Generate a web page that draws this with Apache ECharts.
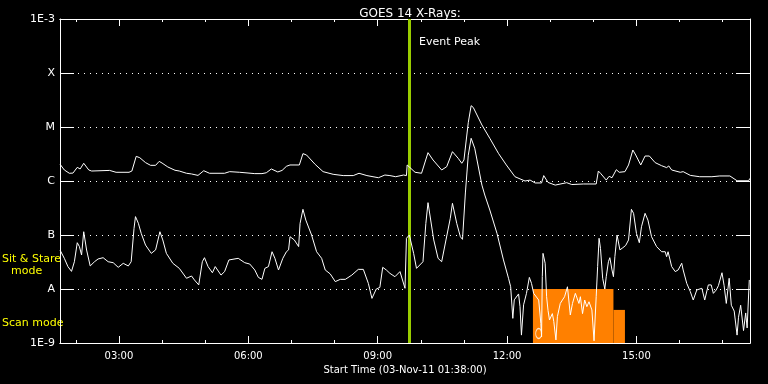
<!DOCTYPE html>
<html><head><meta charset="utf-8">
<script src="https://cdn.jsdelivr.net/npm/echarts@6/dist/echarts.min.js"></script>
<style>html,body{margin:0;padding:0;background:#000}#c{width:768px;height:384px}</style>
</head><body><div id="c"></div>
<script>
const chartTitle = 'GOES 14 X-Rays:';
const xAxisName = 'Start Time (03-Nov-11 01:38:00)';
const xStart = '01:38', xEnd = '17:38';
const xLabelTimes = ['03:00','06:00','09:00','12:00','15:00'];
const xMinorTimes = ['02:00','03:00','04:00','05:00','06:00','07:00','08:00','09:00','10:00','11:00','12:00','13:00','14:00','15:00','16:00','17:00'];
const yLevelLabels = ['1E-9','A','B','C','M','X','1E-3'];

const longTimes = ['01:38','01:44','01:51','01:56','02:02','02:06','02:11','02:18','02:22','02:47','02:56','03:14','03:18','03:24','03:29','03:37','03:44','03:51','03:56','04:00','04:08','04:18','04:24','04:34','04:41','04:50','04:58','05:06','05:27','05:34','05:48','06:09','06:19','06:25','06:32','06:41','06:47','06:53','06:58','07:11','07:16','07:21','07:33','07:44','07:58','08:12','08:26','08:34','08:45','09:01','09:10','09:17','09:25','09:36','09:40','09:41','09:52','10:01','10:10','10:17','10:29','10:36','10:44','10:52','10:57','11:00','11:02','11:06','11:10','11:13','11:25','11:36','11:48','11:59','12:11','12:25','12:32','12:39','12:48','12:51','12:57','13:07','13:23','13:30','13:46','14:04','14:07','14:10','14:18','14:22','14:26','14:32','14:36','14:44','14:49','14:55','14:59','15:06','15:12','15:18','15:26','15:35','15:42','15:45','15:49','16:01','16:05','16:15','16:28','16:45','16:56','17:10','17:20','17:36','17:38'];
const longFlux = [2.05e-6,1.6e-6,1.39e-6,1.4e-6,1.79e-6,1.67e-6,2.13e-6,1.6e-6,1.53e-6,1.57e-6,1.45e-6,1.45e-6,1.53e-6,2.86e-6,2.7e-6,2.19e-6,1.95e-6,1.95e-6,2.31e-6,2.15e-6,1.82e-6,1.58e-6,1.53e-6,1.39e-6,1.35e-6,1.27e-6,1.55e-6,1.39e-6,1.39e-6,1.49e-6,1.45e-6,1.37e-6,1.37e-6,1.42e-6,1.67e-6,1.47e-6,1.57e-6,1.87e-6,1.98e-6,1.98e-6,3.21e-6,3.03e-6,2.03e-6,1.49e-6,1.33e-6,1.26e-6,1.26e-6,1.39e-6,1.26e-6,1.15e-6,1.29e-6,1.26e-6,1.2e-6,1.29e-6,1.26e-6,1.98e-6,1.45e-6,1.39e-6,3.35e-6,2.45e-6,1.6e-6,1.84e-6,3.49e-6,2.63e-6,2.13e-6,2.45e-6,2.3e-6,1.2e-5,2.48e-5,2.3e-5,1.09e-5,6.17e-6,3.25e-6,1.98e-6,1.2e-6,1.0e-6,1.04e-6,9.2e-7,9.2e-7,1.26e-6,9.4e-7,8.4e-7,9.3e-7,8.6e-7,8.8e-7,8.8e-7,1.53e-6,1.39e-6,1.04e-6,1.22e-6,1.15e-6,1.62e-6,1.45e-6,1.49e-6,1.98e-6,3.75e-6,3.03e-6,1.98e-6,2.9e-6,2.9e-6,2.19e-6,1.92e-6,1.77e-6,1.9e-6,1.6e-6,1.45e-6,1.49e-6,1.27e-6,1.2e-6,1.2e-6,1.24e-6,1.24e-6,1.01e-6,1.01e-6,1.12e-6];

const shortTimes = ['01:38','01:44','01:49','01:54','01:58','02:02','02:05','02:08','02:11','02:15','02:20','02:26','02:31','02:38','02:45','02:52','02:59','03:06','03:13','03:17','03:21','03:23','03:27','03:31','03:37','03:45','03:51','03:57','04:01','04:06','04:15','04:24','04:34','04:41','04:45','04:51','04:56','04:59','05:04','05:10','05:14','05:22','05:27','05:33','05:46','05:55','06:02','06:09','06:14','06:19','06:23','06:28','06:33','06:37','06:42','06:48','06:53','06:56','06:58','07:04','07:10','07:12','07:16','07:20','07:28','07:35','07:42','07:47','07:54','08:01','08:08','08:15','08:24','08:33','08:40','08:47','08:52','08:58','09:03','09:07','09:12','09:17','09:24','09:31','09:38','09:40','09:44','09:50','09:54','10:03','10:07','10:10','10:18','10:24','10:29','10:35','10:41','10:44','10:50','10:55','10:58','11:02','11:06','11:10','11:15','11:25','11:29','11:36','11:46','11:55','12:02','12:05','12:08','12:10','12:16','12:18','12:20','12:23','12:27','12:31','12:34','12:37','12:44','12:47','12:48','12:49','12:50','12:53','12:55','12:57','12:59','13:03','13:05','13:08','13:10','13:14','13:17','13:20','13:24','13:28','13:31','13:35','13:40','13:42','13:45','13:48','13:51','13:54','13:58','14:01','14:04','14:06','14:08','14:10','14:13','14:16','14:18','14:21','14:23','14:26','14:28','14:30','14:33','14:37','14:41','14:45','14:49','14:53','14:56','15:00','15:04','15:07','15:12','15:16','15:21','15:28','15:35','15:40','15:42','15:44','15:49','15:54','15:58','16:03','16:05','16:10','16:15','16:19','16:24','16:31','16:35','16:40','16:44','16:47','16:51','16:54','16:59','17:02','17:05','17:09','17:12','17:16','17:20','17:22','17:25','17:29','17:32','17:34','17:37'];
const shortFlux = [5.27e-8,3.7e-8,2.6e-8,2.12e-8,3.2e-8,7.2e-8,6.1e-8,4.26e-8,1.15e-7,5.27e-8,2.67e-8,3.2e-8,3.6e-8,3.8e-8,3.2e-8,3.07e-8,2.52e-8,2.99e-8,2.67e-8,3.2e-8,1.33e-7,2.19e-7,1.65e-7,1.07e-7,6.5e-8,4.57e-8,5.3e-8,1.15e-7,8.1e-8,4.57e-8,2.99e-8,2.41e-8,1.58e-8,1.74e-8,1.47e-8,1.19e-8,3.2e-8,3.8e-8,2.6e-8,2.0e-8,2.6e-8,1.81e-8,2.1e-8,3.45e-8,3.7e-8,3.07e-8,2.9e-8,2.25e-8,1.64e-8,1.51e-8,2.41e-8,2.6e-8,4.9e-8,3.7e-8,2.25e-8,3.7e-8,4.9e-8,5.3e-8,9.3e-8,8.1e-8,6.1e-8,1.64e-7,2.99e-7,1.89e-7,1.0e-7,4.9e-8,3.7e-8,2.25e-8,1.9e-8,1.37e-8,1.51e-8,1.51e-8,1.81e-8,2.31e-8,2.31e-8,1.27e-8,6.7e-9,1.0e-8,1.07e-8,2.52e-8,2.25e-8,1.95e-8,1.69e-8,2.1e-8,1.03e-8,8.7e-8,1.0e-7,4.57e-8,2.41e-8,3.2e-8,1.64e-7,3.97e-7,8.1e-8,3.7e-8,3.2e-8,8.1e-8,2.04e-7,3.86e-7,1.64e-7,9.3e-8,8.3e-8,6.0e-7,3.0e-6,6.18e-6,4.04e-6,8.4e-7,5.5e-7,2.9e-7,1.07e-7,3.45e-8,1.58e-8,1.1e-8,2.86e-9,6.3e-9,8.1e-9,4.7e-9,1.4e-9,5.1e-9,8.3e-9,1.64e-8,1.27e-8,8.3e-9,6.25e-9,2.3e-9,1.3e-9,1.7e-8,4.57e-8,3.0e-8,7.2e-9,4.0e-9,2.67e-9,3.5e-9,2.5e-9,1.14e-9,3.07e-9,5.4e-9,6.25e-9,7.2e-9,1.1e-8,3.3e-9,5.4e-9,8.3e-9,5.4e-9,7.2e-9,3.5e-9,6.25e-9,4.7e-9,5.8e-9,4.1e-9,1.1e-9,7.2e-9,2.6e-8,8.7e-8,5.6e-8,1.58e-8,1.0e-8,1.69e-8,3.2e-8,3.8e-8,2.25e-8,1.69e-8,3.97e-8,1.0e-7,5.3e-8,5.8e-8,6.4e-8,8.1e-8,2.99e-7,2.52e-7,1.07e-7,7.2e-8,1.42e-7,2.52e-7,1.89e-7,9.3e-8,6.1e-8,4.9e-8,4.9e-8,3.97e-8,4.9e-8,2.6e-8,2.1e-8,2.25e-8,3.0e-8,2.25e-8,1.27e-8,8.9e-9,6.25e-9,9.6e-9,1.03e-8,6.25e-9,1.19e-8,1.19e-8,8.3e-9,9.6e-9,1.15e-8,2.0e-8,1.15e-8,5.4e-9,1.58e-8,5.0e-9,3.9e-9,1.4e-9,3.0e-9,5.0e-9,1.7e-9,3.6e-9,1.9e-9,1.47e-8];

const eventPeakTime = '09:44';
const eventPeakLabel = 'Event Peak';
const scanStart = ['12:36','14:28'];
const scanEnd = ['14:28','14:44'];
const scanTop = [1e-8, 4.1e-9];
const scanBottom = [1e-9, 1e-9];
const markerTimes = ['12:44'];
const markerFlux = [1.5e-9];
const modeLabels = ['Sit & Stare', 'mode', 'Scan mode'];

const toH = s => { const [h, m] = s.split(':').map(Number); return h + m / 60; };
const FONT = 'DejaVu Sans';
const WHITE = '#ffffff';

const chart = echarts.init(document.getElementById('c'), null, {renderer: 'canvas'});
const xMinV = toH(xStart), xMaxV = toH(xEnd);
const majors = xLabelTimes.map(toH);
const minors = xMinorTimes.map(toH);

function xAx(pos, major, labels, name) {
  return {
    type: 'value', position: pos, min: xMinV, max: xMaxV, offset: 0,
    name: name || '', nameLocation: 'middle', nameGap: 20,
    nameTextStyle: {color: WHITE, fontFamily: FONT, fontSize: 10},
    axisLine: {show: true, onZero: false, lineStyle: {color: WHITE, width: 1}},
    axisTick: {show: true, inside: true, length: major ? 7 : 3, customValues: major ? majors : minors, lineStyle: {color: WHITE}},
    axisLabel: labels ? {show: true, customValues: majors, color: WHITE, fontFamily: FONT, fontSize: 10, margin: 8,
      formatter: v => { const i = majors.findIndex(m => Math.abs(m - v) < 1e-6); return i >= 0 ? xLabelTimes[i] : ''; }} : {show: false},
    splitLine: {show: false}
  };
}
function yAx(pos, labels) {
  return {
    type: 'log', logBase: 10, position: pos, min: 1e-9, max: 1e-3, splitNumber: 6,
    axisLine: {show: true, onZero: false, lineStyle: {color: WHITE, width: 1}},
    axisTick: {show: true, inside: true, length: 14, lineStyle: {color: WHITE}},
    axisLabel: labels ? {show: true, color: WHITE, fontFamily: FONT, fontSize: 11, margin: 5,
      formatter: v => { const i = Math.round(Math.log10(v)) + 9; return yLevelLabels[i] || ''; }} : {show: false},
    splitLine: labels ? {show: true, lineStyle: {color: WHITE, width: 1, type: [1, 5]}} : {show: false}
  };
}

const scanAreas = scanStart.map((s, i) => [
  {xAxis: toH(s), yAxis: scanBottom[i]},
  {xAxis: toH(scanEnd[i]), yAxis: scanTop[i]}
]);

chart.setOption({
  backgroundColor: '#000000',
  animation: false,
  title: {text: chartTitle, left: 405, top: 3, textAlign: 'center',
    textStyle: {color: WHITE, fontFamily: FONT, fontSize: 12, fontWeight: 'normal'}},
  grid: {left: 60, right: 18, top: 19, bottom: 41, containLabel: false},
  xAxis: [xAx('bottom', true, true, xAxisName), xAx('bottom', false, false), xAx('top', true, false), xAx('top', false, false)],
  yAxis: [yAx('left', true), yAx('right', false)],
  graphic: [
    {type: 'text', left: 419, top: 37, style: {text: eventPeakLabel, fill: WHITE, font: '11px "DejaVu Sans"'}},
    {type: 'text', left: 2, top: 254, style: {text: modeLabels[0], fill: '#ffff00', font: '11px "DejaVu Sans"'}},
    {type: 'text', left: 11, top: 266, style: {text: modeLabels[1], fill: '#ffff00', font: '11px "DejaVu Sans"'}},
    {type: 'text', left: 2, top: 318, style: {text: modeLabels[2], fill: '#ffff00', font: '11px "DejaVu Sans"'}}
  ],
  series: [
    {type: 'line', name: 'long', xAxisIndex: 0, yAxisIndex: 0, showSymbol: false, symbol: 'none',
      data: longTimes.map((t, i) => [toH(t), longFlux[i]]),
      lineStyle: {color: WHITE, width: 1}, z: 5,
      markLine: {silent: true, symbol: 'none', label: {show: false},
        lineStyle: {color: '#99cc00', width: 3, type: 'solid'},
        data: [{xAxis: toH(eventPeakTime)}]}},
    {type: 'line', name: 'short', xAxisIndex: 0, yAxisIndex: 0, showSymbol: false, symbol: 'none',
      data: shortTimes.map((t, i) => [toH(t), shortFlux[i]]),
      lineStyle: {color: WHITE, width: 1}, z: 5,
      markArea: {silent: true, itemStyle: {color: '#ff8000', opacity: 1}, data: scanAreas}},
    {type: 'scatter', xAxisIndex: 0, yAxisIndex: 0, symbol: 'circle', symbolSize: [6, 10],
      itemStyle: {color: 'rgba(0,0,0,0)', borderColor: WHITE, borderWidth: 1},
      data: markerTimes.map((t, i) => [toH(t), markerFlux[i]]), z: 6}
  ]
});
</script></body></html>
